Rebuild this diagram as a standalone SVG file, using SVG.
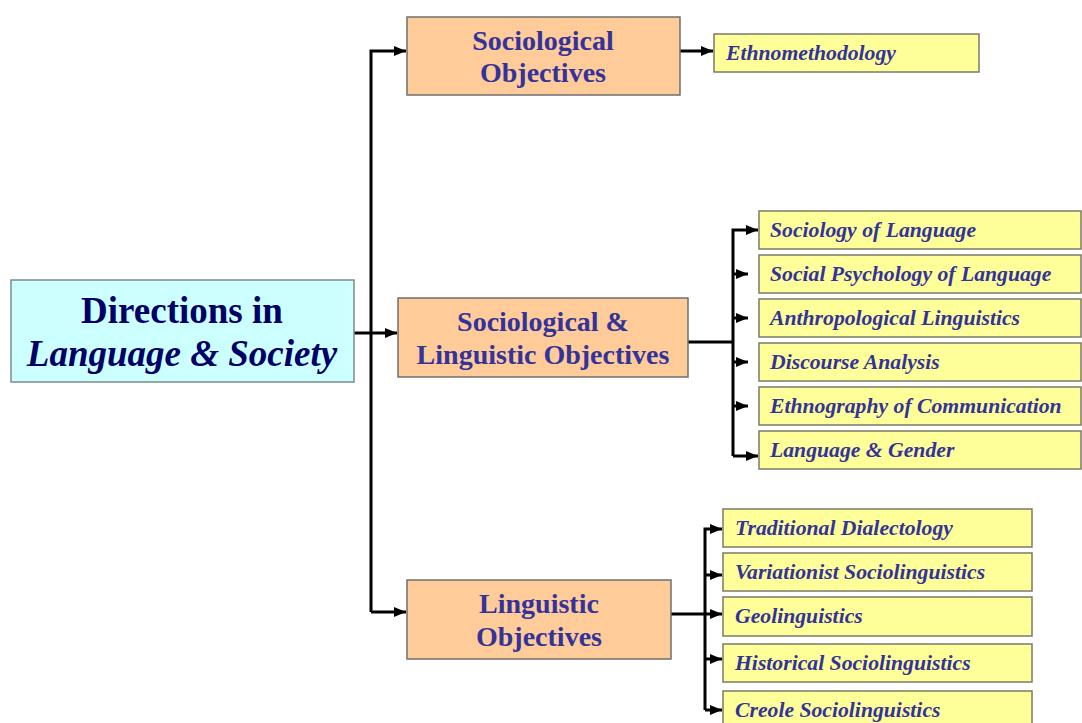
<svg xmlns="http://www.w3.org/2000/svg" width="1082" height="723" viewBox="0 0 1082 723">
<style>
.root{fill:#CCFFFF;stroke:#7f8a8a;stroke-width:1.5}
.obj{fill:#FFCC99;stroke:#6f6f6f;stroke-width:1.5}
.leaf{fill:#FFFF99;stroke:#7a7a6a;stroke-width:1.5}
.rt{font-family:"Liberation Serif",serif;font-weight:bold;font-size:37px;fill:#000066;text-anchor:middle}
.ot{font-family:"Liberation Serif",serif;font-weight:bold;font-size:28px;fill:#333399;text-anchor:middle}
.lt{font-family:"Liberation Serif",serif;font-weight:bold;font-style:italic;font-size:21.7px;fill:#333399}
.c{fill:none;stroke:#000;stroke-width:3}
</style>
<defs>
<marker id="ah" markerUnits="userSpaceOnUse" markerWidth="13" markerHeight="13" viewBox="0 0 13 13" refX="12" refY="6.5" orient="auto">
<path d="M0,1.5 L12,6.5 L0,11.5 Z" fill="#000"/>
</marker>
</defs>
<rect width="1082" height="723" fill="#fff"/>
<g id="connectors">
<path class="c" d="M354,333 H371"/>
<path class="c" d="M371,612 V51 H406" marker-end="url(#ah)"/>
<path class="c" d="M371,333 H397" marker-end="url(#ah)"/>
<path class="c" d="M371,612 H406" marker-end="url(#ah)"/>
<path class="c" d="M680,51 H713" marker-end="url(#ah)"/>
<path class="c" d="M688,342 H733"/>
<path class="c" d="M733,456 V230 H758" marker-end="url(#ah)"/>
<path class="c" d="M733,274 H748" marker-end="url(#ah)"/>
<path class="c" d="M733,318 H748" marker-end="url(#ah)"/>
<path class="c" d="M733,362 H748" marker-end="url(#ah)"/>
<path class="c" d="M733,406 H748" marker-end="url(#ah)"/>
<path class="c" d="M733,456 H758" marker-end="url(#ah)"/>
<path class="c" d="M671,614 H705"/>
<path class="c" d="M705,710 V529 H722" marker-end="url(#ah)"/>
<path class="c" d="M705,575 H722" marker-end="url(#ah)"/>
<path class="c" d="M705,614 H722" marker-end="url(#ah)"/>
<path class="c" d="M705,659 H722" marker-end="url(#ah)"/>
<path class="c" d="M705,710 H722" marker-end="url(#ah)"/>
</g>
<g id="root">
<rect class="root" x="11" y="280" width="343" height="102"/>
<text class="rt" x="182" y="323">Directions in</text>
<text class="rt" x="182" y="366" font-style="italic">Language &amp; Society</text>
</g>
<g id="sociological">
<rect class="obj" x="407" y="17" width="273" height="78"/>
<text class="ot" x="543" y="50">Sociological</text>
<text class="ot" x="543" y="82">Objectives</text>
</g>
<g id="socling">
<rect class="obj" x="398" y="298" width="290" height="79"/>
<text class="ot" x="543" y="331">Sociological &amp;</text>
<text class="ot" x="543" y="364">Linguistic Objectives</text>
</g>
<g id="linguistic">
<rect class="obj" x="407" y="580" width="264" height="79"/>
<text class="ot" x="539" y="613">Linguistic</text>
<text class="ot" x="539" y="646">Objectives</text>
</g>
<g id="ethno">
<rect class="leaf" x="714" y="34" width="265" height="38"/>
<text class="lt" x="726" y="60">Ethnomethodology</text>
</g>
<g id="soclang">
<rect class="leaf" x="759" y="211" width="322" height="38"/>
<text class="lt" x="770" y="237">Sociology of Language</text>
</g>
<g id="socpsych">
<rect class="leaf" x="759" y="255" width="322" height="38"/>
<text class="lt" x="770" y="281">Social Psychology of Language</text>
</g>
<g id="anthro">
<rect class="leaf" x="759" y="299" width="322" height="38"/>
<text class="lt" x="770" y="325">Anthropological Linguistics</text>
</g>
<g id="discourse">
<rect class="leaf" x="759" y="343" width="322" height="38"/>
<text class="lt" x="770" y="369">Discourse Analysis</text>
</g>
<g id="ethnography">
<rect class="leaf" x="759" y="387" width="322" height="38"/>
<text class="lt" x="770" y="413">Ethnography of Communication</text>
</g>
<g id="gender">
<rect class="leaf" x="759" y="431" width="322" height="38"/>
<text class="lt" x="770" y="457">Language &amp; Gender</text>
</g>
<g id="tradDial">
<rect class="leaf" x="723" y="509" width="309" height="38"/>
<text class="lt" x="735" y="535">Traditional Dialectology</text>
</g>
<g id="variationist">
<rect class="leaf" x="723" y="553" width="309" height="38"/>
<text class="lt" x="735" y="579">Variationist Sociolinguistics</text>
</g>
<g id="geoling">
<rect class="leaf" x="723" y="597" width="309" height="39"/>
<text class="lt" x="735" y="623">Geolinguistics</text>
</g>
<g id="historical">
<rect class="leaf" x="723" y="644" width="309" height="38"/>
<text class="lt" x="735" y="670">Historical Sociolinguistics</text>
</g>
<g id="creole">
<rect class="leaf" x="723" y="691" width="309" height="38"/>
<text class="lt" x="735" y="717">Creole Sociolinguistics</text>
</g>
</svg>
